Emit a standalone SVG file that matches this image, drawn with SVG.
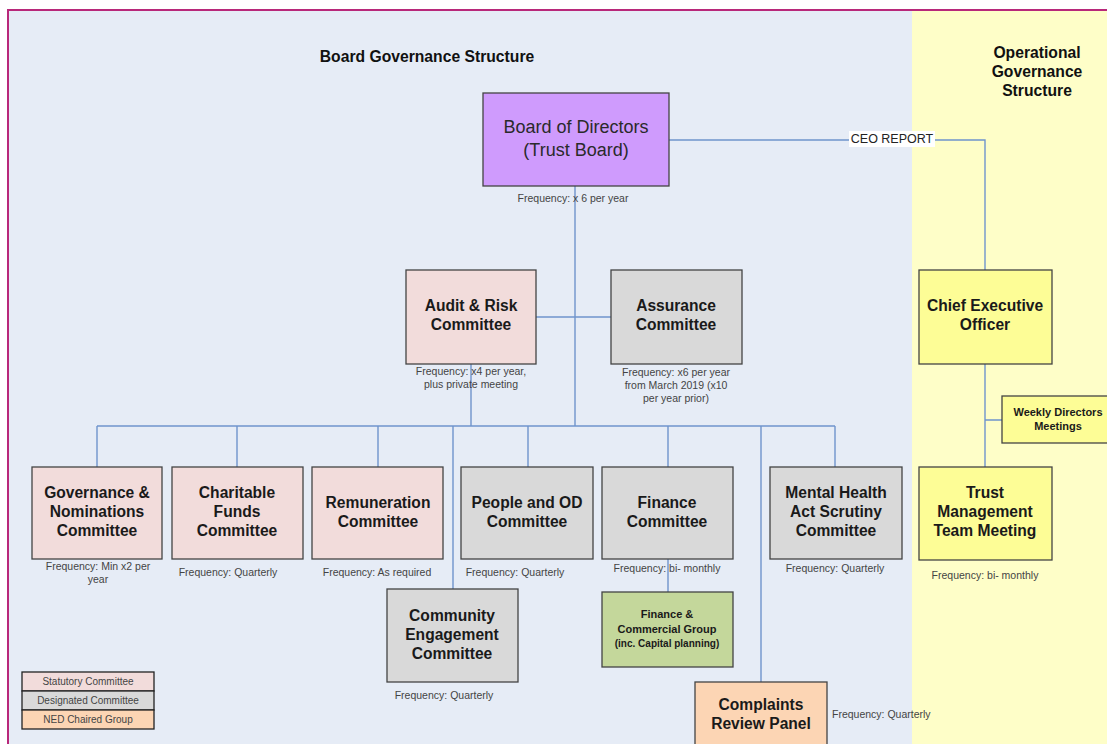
<svg xmlns="http://www.w3.org/2000/svg" width="1107" height="744" viewBox="0 0 1107 744">
<style>
.node rect{stroke:#444;stroke-width:1.3}
.t{font-family:"Liberation Sans",Arial,sans-serif;font-weight:bold;font-size:15.6px;fill:#1a1a1a;text-anchor:middle}
.ts{font-family:"Liberation Sans",Arial,sans-serif;font-weight:bold;font-size:11px;fill:#1a1a1a;text-anchor:middle}
.f{font-family:"Liberation Sans",Arial,sans-serif;font-size:10.5px;fill:#444;text-anchor:middle}
.h{font-family:"Liberation Sans",Arial,sans-serif;font-weight:bold;font-size:15.7px;fill:#111;text-anchor:middle}
.stat{fill:#f2dcdb}.des{fill:#d9d9d9}.ned{fill:#fcd5b4}.ceo{fill:#fdfd96}
#connectors path{fill:none;stroke:#6f94cc;stroke-width:1.4}
#legend rect{stroke:#222}
</style>
<rect x="0" y="0" width="1107" height="744" fill="#ffffff"/>
<rect x="9" y="10" width="904" height="740" fill="#e6ecf6"/>
<rect x="912" y="10" width="200" height="740" fill="#fefec8"/>
<path d="M8 760 V10 H1110" fill="none" stroke="#b8287a" stroke-width="2"/>
<text class="h" x="427" y="62">Board Governance Structure</text>
<text class="h" x="1037" y="58">Operational</text>
<text class="h" x="1037" y="77">Governance</text>
<text class="h" x="1037" y="96">Structure</text>

<g id="connectors">
<path d="M575 186 V426"/>
<path d="M669 140 H985 V270"/>
<path d="M536 317 H611"/>
<path d="M471 364 V426"/>
<path d="M97 426 H835"/>
<path d="M97 426 V467 M237 426 V467 M378 426 V467 M453 426 V589 M528 426 V467 M668 426 V467 M761 426 V682 M835 426 V467"/>
<path d="M668 559 V592"/>
<path d="M985 364 V467 M985 420 H1002"/>
<rect x="849" y="131" width="86" height="16" fill="#ffffff"/>
<text x="892" y="143" style="font-family:'Liberation Sans',Arial,sans-serif;font-size:12.5px;fill:#222;text-anchor:middle">CEO REPORT</text>
</g>

<g id="board" class="node">
<rect x="483" y="93" width="186" height="93" fill="#cf9bfd"/>
<text x="576" y="133" style="font-family:'Liberation Sans',Arial,sans-serif;font-size:18px;fill:#2a2a2a;text-anchor:middle">Board of Directors</text>
<text x="576" y="156" style="font-family:'Liberation Sans',Arial,sans-serif;font-size:18px;fill:#2a2a2a;text-anchor:middle">(Trust Board)</text>
<text class="f" x="573" y="202">Frequency: x 6 per year</text>
</g>

<g id="audit" class="node">
<rect class="stat" x="406" y="270" width="130" height="94"/>
<text class="t" x="471" y="311">Audit &amp; Risk</text>
<text class="t" x="471" y="330">Committee</text>
<text class="f" x="471" y="375">Frequency: x4 per year,</text>
<text class="f" x="471" y="388">plus private meeting</text>
</g>

<g id="assurance" class="node">
<rect class="des" x="611" y="270" width="131" height="94"/>
<text class="t" x="676" y="311">Assurance</text>
<text class="t" x="676" y="330">Committee</text>
<text class="f" x="676" y="376">Frequency: x6 per year</text>
<text class="f" x="676" y="389">from March 2019 (x10</text>
<text class="f" x="676" y="402">per year prior)</text>
</g>

<g id="govnom" class="node">
<rect class="stat" x="32" y="467" width="130" height="92"/>
<text class="t" x="97" y="498">Governance &amp;</text>
<text class="t" x="97" y="517">Nominations</text>
<text class="t" x="97" y="536">Committee</text>
<text class="f" x="98" y="570">Frequency: Min x2 per</text>
<text class="f" x="98" y="583">year</text>
</g>

<g id="charitable" class="node">
<rect class="stat" x="172" y="467" width="131" height="92"/>
<text class="t" x="237" y="498">Charitable</text>
<text class="t" x="237" y="517">Funds</text>
<text class="t" x="237" y="536">Committee</text>
<text class="f" x="228" y="576">Frequency: Quarterly</text>
</g>

<g id="remuneration" class="node">
<rect class="stat" x="312" y="467" width="131" height="92"/>
<text class="t" x="378" y="508">Remuneration</text>
<text class="t" x="378" y="527">Committee</text>
<text class="f" x="377" y="576">Frequency: As required</text>
</g>

<g id="people" class="node">
<rect class="des" x="461" y="467" width="132" height="92"/>
<text class="t" x="527" y="508">People and OD</text>
<text class="t" x="527" y="527">Committee</text>
<text class="f" x="515" y="576">Frequency: Quarterly</text>
</g>

<g id="finance" class="node">
<rect class="des" x="602" y="467" width="131" height="92"/>
<text class="t" x="667" y="508">Finance</text>
<text class="t" x="667" y="527">Committee</text>
<text class="f" x="667" y="572">Frequency: bi- monthly</text>
</g>

<g id="mentalhealth" class="node">
<rect class="des" x="770" y="467" width="132" height="92"/>
<text class="t" x="836" y="498">Mental Health</text>
<text class="t" x="836" y="517">Act Scrutiny</text>
<text class="t" x="836" y="536">Committee</text>
<text class="f" x="835" y="572">Frequency: Quarterly</text>
</g>

<g id="community" class="node">
<rect class="des" x="387" y="589" width="131" height="93"/>
<text class="t" x="452" y="621">Community</text>
<text class="t" x="452" y="640">Engagement</text>
<text class="t" x="452" y="659">Committee</text>
<text class="f" x="444" y="699">Frequency: Quarterly</text>
</g>

<g id="fincommercial" class="node">
<rect x="602" y="592" width="131" height="75" fill="#c4d79b"/>
<text class="ts" x="667" y="618">Finance &amp;</text>
<text class="ts" x="667" y="633">Commercial Group</text>
<text class="ts" x="667" y="647" style="font-size:10px">(inc. Capital planning)</text>
</g>

<g id="complaints" class="node">
<rect class="ned" x="695" y="682" width="132" height="80"/>
<text class="t" x="761" y="710">Complaints</text>
<text class="t" x="761" y="729">Review Panel</text>
<text class="f" x="832" y="718" style="text-anchor:start">Frequency: Quarterly</text>
</g>

<g id="ceo" class="node">
<rect class="ceo" x="919" y="270" width="133" height="94"/>
<text class="t" x="985" y="311">Chief Executive</text>
<text class="t" x="985" y="330">Officer</text>
</g>

<g id="weekly" class="node">
<rect class="ceo" x="1002" y="396" width="120" height="47"/>
<text class="ts" x="1058" y="416">Weekly Directors</text>
<text class="ts" x="1058" y="430">Meetings</text>
</g>

<g id="tmt" class="node">
<rect class="ceo" x="919" y="467" width="133" height="93"/>
<text class="t" x="985" y="498">Trust</text>
<text class="t" x="985" y="517">Management</text>
<text class="t" x="985" y="536">Team Meeting</text>
<text class="f" x="985" y="579">Frequency: bi- monthly</text>
</g>

<g id="legend" class="node">
<rect class="stat" x="22" y="672" width="132" height="19"/>
<rect class="des" x="22" y="691" width="132" height="19"/>
<rect class="ned" x="22" y="710" width="132" height="19"/>
<text class="f" x="88" y="685" style="font-size:10px">Statutory Committee</text>
<text class="f" x="88" y="704" style="font-size:10px">Designated Committee</text>
<text class="f" x="88" y="723" style="font-size:10px">NED Chaired Group</text>
</g>
</svg>
